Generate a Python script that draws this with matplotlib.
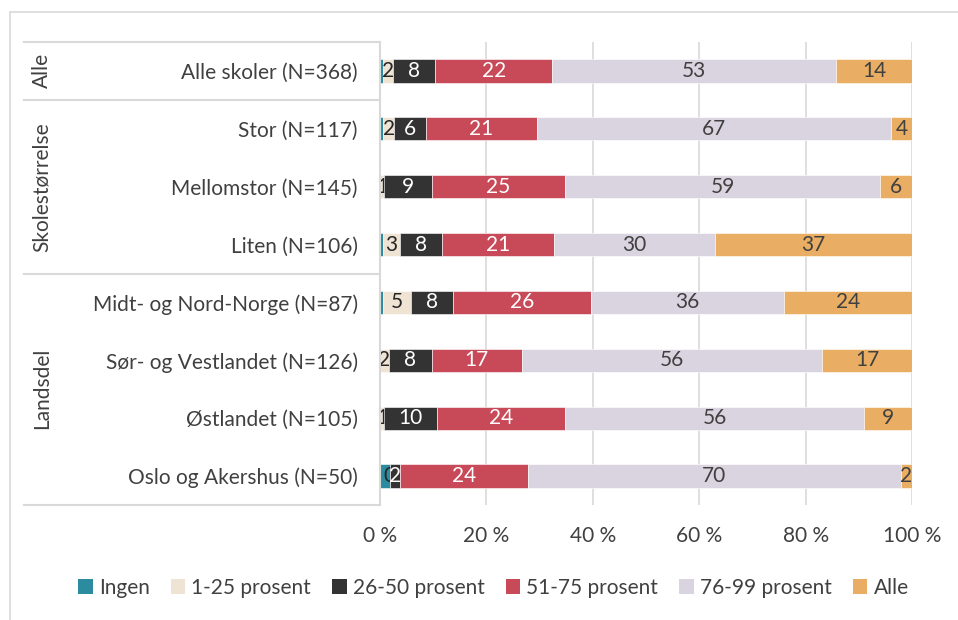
"""Stacked 100 % bar chart: share of pupils per school group."""

import matplotlib

matplotlib.use("Agg")
import matplotlib.pyplot as plt
from matplotlib.patches import Rectangle, Patch
from matplotlib.lines import Line2D
from matplotlib.transforms import blended_transform_factory

plt.rcParams["font.family"] = ["Lato", "DejaVu Sans"]

categories = [
    "Alle skoler (N=368)",
    "Stor (N=117)",
    "Mellomstor (N=145)",
    "Liten (N=106)",
    "Midt- og Nord-Norge (N=87)",
    "Sør- og Vestlandet (N=126)",
    "Østlandet (N=105)",
    "Oslo og Akershus (N=50)",
]
series_names = ["Ingen", "1-25 prosent", "26-50 prosent", "51-75 prosent", "76-99 prosent", "Alle"]

ingen = [0.5, 0.6, 0.0, 0.5, 0.6, 0.0, 0.0, 1.8]
p1_25 = [1.9, 2.1, 0.8, 3.2, 5.2, 1.7, 0.7, 0.0]
p26_50 = [8.0, 5.9, 8.9, 7.9, 7.9, 8.0, 10.0, 2.0]
p51_75 = [22.0, 20.9, 25.1, 21.1, 26.0, 17.0, 24.1, 24.0]
p76_99 = [53.3, 66.6, 59.2, 30.3, 36.2, 56.4, 56.2, 70.1]
alle = [14.3, 3.9, 6.0, 37.0, 24.1, 16.9, 9.0, 2.1]

groups = ["Alle", "Skolestørrelse", "Landsdel"]
group_centers = [0, 2, 5.48]
group_bounds = [-0.5, 0.5, 3.5, 7.5]

colors = ["#2b8b9f", "#efe3d4", "#333333", "#c84a59", "#dad4e0", "#e9ae63"]
label_colors = [None, "#262626", "white", "white", "#404040", "#404040"]

W, H = 958, 620
FS = 15


def main():
    fig = plt.figure(figsize=(W / 100, H / 100), dpi=100)
    ax = fig.add_axes([380 / W, 1 - 505 / H, (912 - 380) / W, (505 - 42) / H])

    # outer frame
    fig.add_artist(Rectangle((10 / W, -0.05), 1.0, 1 - 12 / H + 0.05, transform=fig.transFigure,
                             fill=False, edgecolor="#d9d9d9", lw=1.2))

    y = list(range(len(categories)))
    left = [0.0] * len(categories)
    data = [ingen, p1_25, p26_50, p51_75, p76_99, alle]
    for vals, name, col, lc in zip(data, series_names, colors, label_colors):
        bars = ax.barh(y, vals, left=left, height=0.4, color=col, edgecolor="white",
                       linewidth=0.4, label=name, zorder=3)
        if lc is not None:
            ax.bar_label(bars, labels=[f"{v:.0f}" for v in vals], label_type="center",
                         color=lc, fontsize=FS)
        left = [a + b for a, b in zip(left, vals)]

    ax.set_xlim(0, 100)
    ax.set_ylim(7.5, -0.5)
    ax.set_xticks([0, 20, 40, 60, 80, 100])
    ax.set_xticklabels([f"{t} %" for t in [0, 20, 40, 60, 80, 100]])
    ax.set_yticks(y)
    ax.set_yticklabels(categories)
    ax.tick_params(axis="both", length=0, labelsize=FS, labelcolor="#404040")
    ax.tick_params(axis="y", pad=16)
    ax.tick_params(axis="x", pad=15)
    ax.grid(axis="x", color="#d9d9d9", lw=1.2, zorder=0)
    for s in ["top", "right", "bottom"]:
        ax.spines[s].set_visible(False)
    ax.spines["left"].set_color("#d9d9d9")
    ax.spines["left"].set_linewidth(1.5)
    ax.spines["left"].set_zorder(4)

    # group table on the left
    tr = blended_transform_factory(fig.transFigure, ax.transData)
    for b in group_bounds:
        fig.add_artist(Line2D([24 / W, 380 / W], [b, b], transform=tr, color="#d9d9d9", lw=1.5))
    for g, c in zip(groups, group_centers):
        fig.text(42 / W, c, g, transform=tr, rotation=90, ha="center", va="center",
                 fontsize=FS, color="#404040")

    handles = [Patch(facecolor=c, edgecolor="none") for c in colors]
    fig.legend(handles, series_names, loc="center", bbox_to_anchor=(0.515, 1 - 588 / H), ncol=6,
               frameon=False, fontsize=FS, handlelength=0.7, handleheight=0.7,
               handletextpad=0.3, columnspacing=1.0, labelcolor="#404040")

    fig.savefig("out.png", dpi=100)


if __name__ == "__main__":
    main()
